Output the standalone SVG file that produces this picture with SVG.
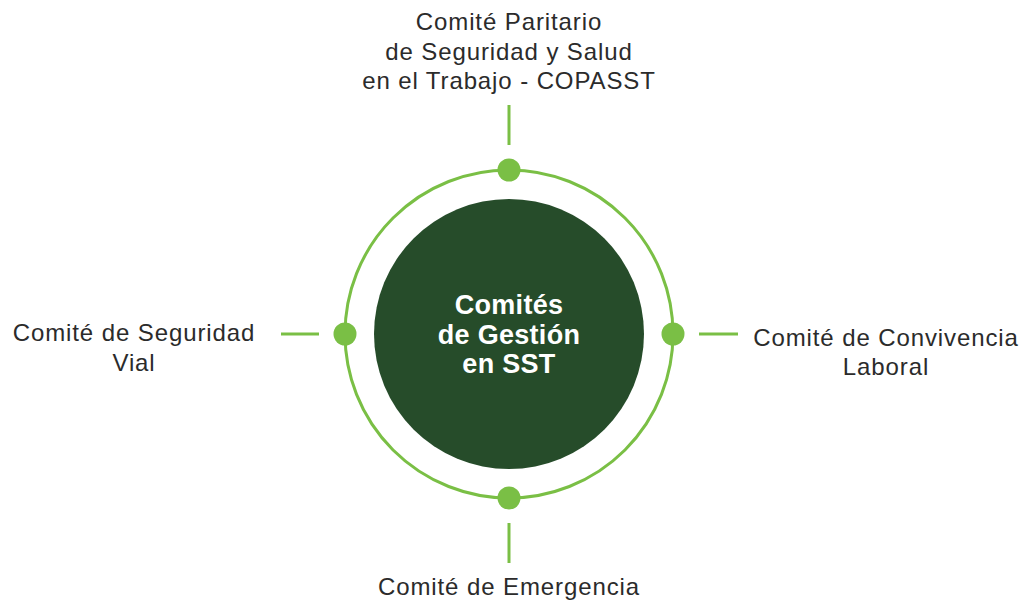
<svg xmlns="http://www.w3.org/2000/svg" width="1019" height="602" viewBox="0 0 1019 602">
<style>
.lbl{font-family:"Liberation Sans",Arial,sans-serif;font-size:24px;fill:#2b2b2b;text-anchor:middle;letter-spacing:0.9px}
.ctr{font-family:"Liberation Sans",Arial,sans-serif;font-size:27px;font-weight:bold;fill:#ffffff;text-anchor:middle;letter-spacing:0.3px}
.con{stroke:#7abf45;stroke-width:3;fill:none}
.dot{fill:#7abf45}
</style>
<rect width="1019" height="602" fill="#ffffff"/>
<g id="ring">
<circle cx="509" cy="334" r="164" class="con"/>
</g>
<g id="connectors">
<line x1="509" y1="105" x2="509" y2="145" class="con"/>
<line x1="509" y1="523" x2="509" y2="563" class="con"/>
<line x1="281" y1="334" x2="319" y2="334" class="con"/>
<line x1="699" y1="334" x2="738" y2="334" class="con"/>
</g>
<g id="center">
<circle cx="509" cy="334" r="135" fill="#264c2a"/>
<text class="ctr" x="509" y="314">Comités</text>
<text class="ctr" x="509" y="344">de Gestión</text>
<text class="ctr" x="509" y="373">en SST</text>
</g>
<g id="copasst">
<circle cx="509" cy="170" r="11.5" class="dot"/>
<text class="lbl" x="509" y="30">Comité Paritario</text>
<text class="lbl" x="509" y="60">de Seguridad y Salud</text>
<text class="lbl" x="509" y="89">en el Trabajo - COPASST</text>
</g>
<g id="vial">
<circle cx="345" cy="334" r="11.5" class="dot"/>
<text class="lbl" x="134" y="341">Comité de Seguridad</text>
<text class="lbl" x="134" y="371">Vial</text>
</g>
<g id="convivencia">
<circle cx="673" cy="334" r="11.5" class="dot"/>
<text class="lbl" x="886" y="346">Comité de Convivencia</text>
<text class="lbl" x="886" y="375">Laboral</text>
</g>
<g id="emergencia">
<circle cx="509" cy="498" r="11.5" class="dot"/>
<text class="lbl" x="509" y="595">Comité de Emergencia</text>
</g>
</svg>
